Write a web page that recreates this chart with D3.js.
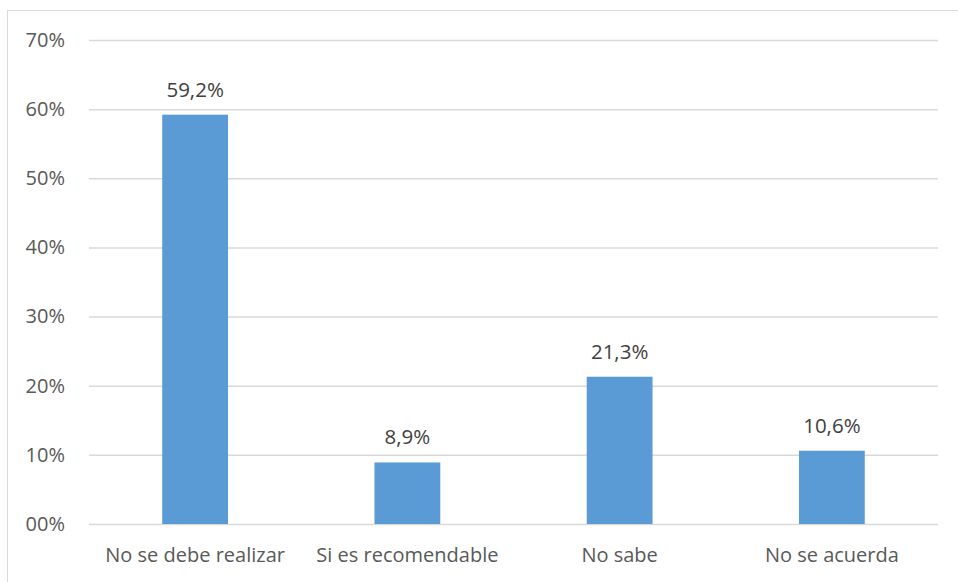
<!DOCTYPE html>
<html><head><meta charset="utf-8">
<script src="https://cdn.jsdelivr.net/npm/d3@7"></script>
<style>html,body{margin:0;padding:0;background:#fff;}svg{display:block;}</style>
</head><body>
<script>
const categories = ["No se debe realizar", "Si es recomendable", "No sabe", "No se acuerda"];
const values = [59.2, 8.9, 21.3, 10.6];
const valueLabels = ["59,2%", "8,9%", "21,3%", "10,6%"];
const yTicks = [0, 10, 20, 30, 40, 50, 60, 70];
const yTickLabels = ["00%", "10%", "20%", "30%", "40%", "50%", "60%", "70%"];

const W = 958, H = 582;
const font = "'Open Sans', sans-serif";
const svg = d3.select("body").append("svg").attr("width", W).attr("height", H);

svg.append("rect").attr("x", 7.5).attr("y", 10.5).attr("width", W).attr("height", H)
  .attr("fill", "none").attr("stroke", "#d9d9d9").attr("stroke-width", 1);

const x = d3.scaleBand().domain(categories).range([89, 938]).paddingInner(0.69).paddingOuter(0.345);
const y = d3.scaleLinear().domain([0, 70]).range([524, 40]);

const yAxis = d3.axisLeft(y).tickValues(yTicks).tickSize(-(938 - 89)).tickPadding(24)
  .tickFormat((d, i) => yTickLabels[i]);
const gy = svg.append("g").attr("transform", "translate(89,0)").call(yAxis);
gy.select(".domain").remove();
gy.selectAll(".tick line").attr("stroke", "#d9d9d9").attr("stroke-width", 1.5);
gy.selectAll(".tick text").attr("fill", "#595959").style("font-family", font).style("font-size", "20px");

svg.selectAll("rect.bar").data(values).enter().append("rect").attr("class", "bar")
  .attr("x", (d, i) => x(categories[i])).attr("width", x.bandwidth())
  .attr("y", d => y(d)).attr("height", d => y(0) - y(d)).attr("fill", "#5b9bd5");

svg.selectAll("text.val").data(values).enter().append("text").attr("class", "val")
  .attr("x", (d, i) => x(categories[i]) + x.bandwidth() / 2).attr("y", d => y(d) - 18)
  .attr("text-anchor", "middle").attr("fill", "#404040")
  .style("font-family", font).style("font-size", "20.5px").text((d, i) => valueLabels[i]);

const xAxis = d3.axisBottom(x).tickSize(0).tickPadding(24);
const gx = svg.append("g").attr("transform", "translate(0,524)").call(xAxis);
gx.select(".domain").remove();
gx.selectAll(".tick text").attr("fill", "#595959").style("font-family", font).style("font-size", "20px");
</script>
</body></html>
